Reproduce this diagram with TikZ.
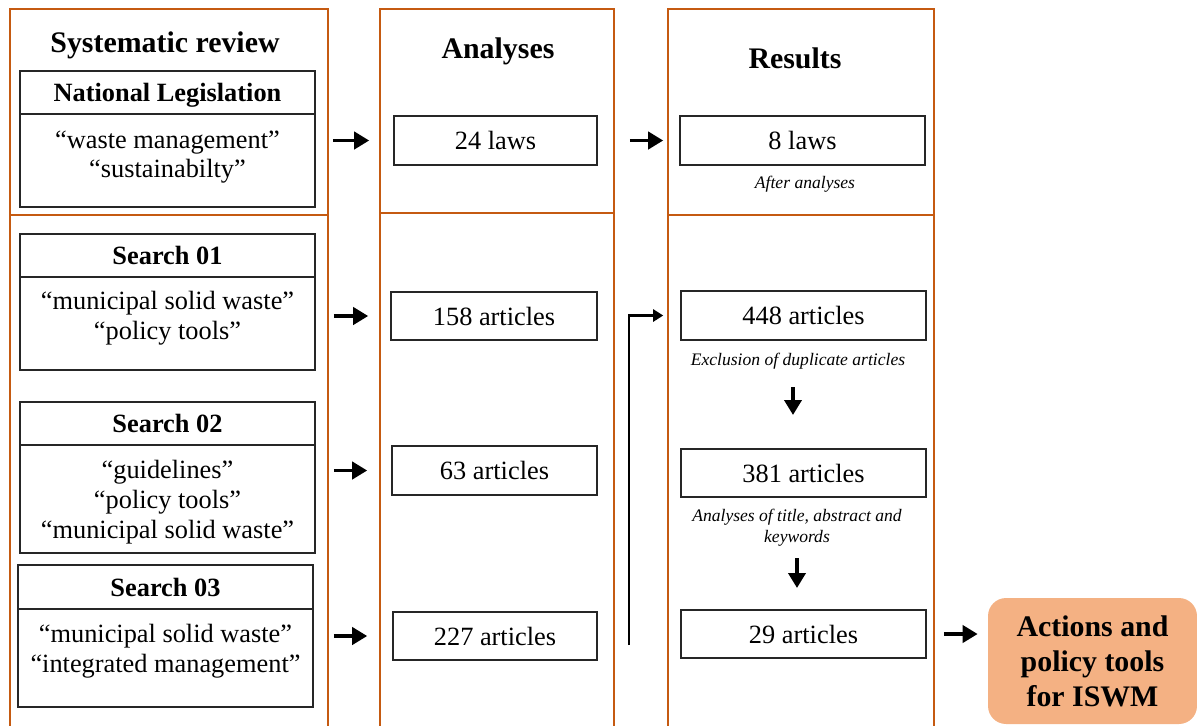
\documentclass[tikz,border=0pt]{standalone}
\usepackage{fontspec}
\setmainfont{Liberation Serif}
\usetikzlibrary{arrows.meta}
\definecolor{panel}{HTML}{C55A11}
\definecolor{finalfill}{HTML}{F4B183}
\tikzset{
  panelline/.style={draw=panel, line width=1pt},
  hdr/.style={font=\fontsize{17}{20}\selectfont\bfseries, inner sep=0pt},
  wbox/.style 2 args={draw=black!85, line width=0.9pt, inner sep=0pt,
     minimum width=#1cm, minimum height=#2cm, font=\fontsize{15}{17}\selectfont},
  tbox/.style 2 args={wbox={#1}{#2}, text depth=0pt, font=\fontsize{15}{17}\selectfont\bfseries},
  body/.style={align=center, inner sep=0pt, font=\fontsize{15}{17}\selectfont},
  lab/.style={align=center, inner sep=0pt, font=\fontsize{10}{12}\selectfont\itshape},
  finalbox/.style={fill=finalfill, rounded corners=0.36cm, align=center, inner sep=0pt,
     text depth=0pt, minimum width=4.18cm, minimum height=2.52cm,
     font=\fontsize{17}{19.8}\selectfont\bfseries},
  arr/.style={line width=2.2pt, -{Triangle[length=0.3cm,width=0.34cm]}},
  thinarr/.style={line width=1.3pt, -{Triangle[length=0.2cm,width=0.24cm]}}
}
\begin{document}
\begin{tikzpicture}[x=0.02cm,y=-0.02cm]
\useasboundingbox (0,0) rectangle (1198,725);
% panels
\draw[panelline] (10,9) rectangle (328,215);
\draw[panelline] (10,726) -- (10,215) -- (328,215) -- (328,726);
\draw[panelline] (380,9) rectangle (614,213);
\draw[panelline] (380,726) -- (380,213) -- (614,213) -- (614,726);
\draw[panelline] (668,9) rectangle (934,215);
\draw[panelline] (668,726) -- (668,215) -- (934,215) -- (934,726);
% headers
\node[hdr] (h1) at (165,45) {Systematic review};
\node[hdr] (h2) at (498,51) {Analyses};
\node[hdr] (h3) at (795,58) {Results};
% left column boxes
\node[tbox={5.9}{0.86}] (legT) at (167.5,92.5) {National Legislation};
\node[wbox={5.9}{1.86}] (legB) at (167.5,160.5) {};
\node[body] (legtx) at (167.5,157) {“waste management”\\“sustainabilty”};
\node[tbox={5.9}{0.86}] (s1T) at (167.5,255.5) {Search 01};
\node[wbox={5.9}{1.86}] (s1B) at (167.5,323.5) {};
\node[body] (s1tx) at (167.5,318.5) {“municipal solid waste”\\“policy tools”};
\node[tbox={5.9}{0.86}] (s2T) at (167.5,423.5) {Search 02};
\node[wbox={5.9}{2.16}] (s2B) at (167.5,499) {};
\node[body] (s2tx) at (167.5,502) {“guidelines”\\“policy tools”\\“municipal solid waste”};
\node[tbox={5.9}{0.88}] (s3T) at (165.5,587) {Search 03};
\node[wbox={5.9}{1.96}] (s3B) at (165.5,658) {};
\node[body] (s3tx) at (165.5,651.5) {“municipal solid waste”\\“integrated management”};
% analyses column
\node[wbox={4.06}{0.98}] (laws24) at (495.5,140.5) {24 laws};
\node[wbox={4.12}{0.96}] (a158) at (494,316) {158 articles};
\node[wbox={4.1}{0.98}] (a63) at (494.5,470.5) {63 articles};
\node[wbox={4.08}{0.96}] (a227) at (495,636) {227 articles};
% results column
\node[wbox={4.9}{0.98}] (laws8) at (802.5,140.5) {8 laws};
\node[lab] (l1) at (805,184) {After analyses};
\node[wbox={4.9}{0.98}] (a448) at (803.5,315.5) {448 articles};
\node[lab] (l2) at (798,361) {Exclusion of duplicate articles};
\node[wbox={4.9}{0.96}] (a381) at (803.5,473) {381 articles};
\node[lab] (l3) at (797,528) {Analyses of title, abstract and\\keywords};
\node[wbox={4.9}{0.96}] (a29) at (803.5,634) {29 articles};
% final
\node[finalbox] (fin) at (1092.5,661) {Actions and\\policy tools\\for ISWM};
% arrows
\draw[arr, shorten <=0.34cm, shorten >=0.48cm] (legB.east |- laws24.west) -- (laws24.west);
\draw[arr, shorten <=0.64cm, shorten >=0.32cm] (laws24.east) -- (laws8.west);
\draw[arr, shorten <=0.36cm, shorten >=0.44cm] (s1B.east |- a158.west) -- (a158.west);
\draw[arr, shorten <=0.36cm, shorten >=0.48cm] (s2B.east |- a63.west) -- (a63.west);
\draw[arr, shorten <=0.40cm, shorten >=0.50cm] (s3B.east |- a227.west) -- (a227.west);
\draw[arr, shorten <=0.34cm, shorten >=0.20cm] (a29.east) -- (fin.west |- a29.east);
\coordinate (eb) at (629,645);
\draw[thinarr, shorten >=0.34cm] (eb) |- (a448.west);
\coordinate (d1a) at (793,387);
\coordinate (d1b) at (793,415);
\draw[arr] (d1a) -- (d1b);
\coordinate (d2a) at (797,558);
\coordinate (d2b) at (797,588);
\draw[arr] (d2a) -- (d2b);
\end{tikzpicture}
\end{document}
